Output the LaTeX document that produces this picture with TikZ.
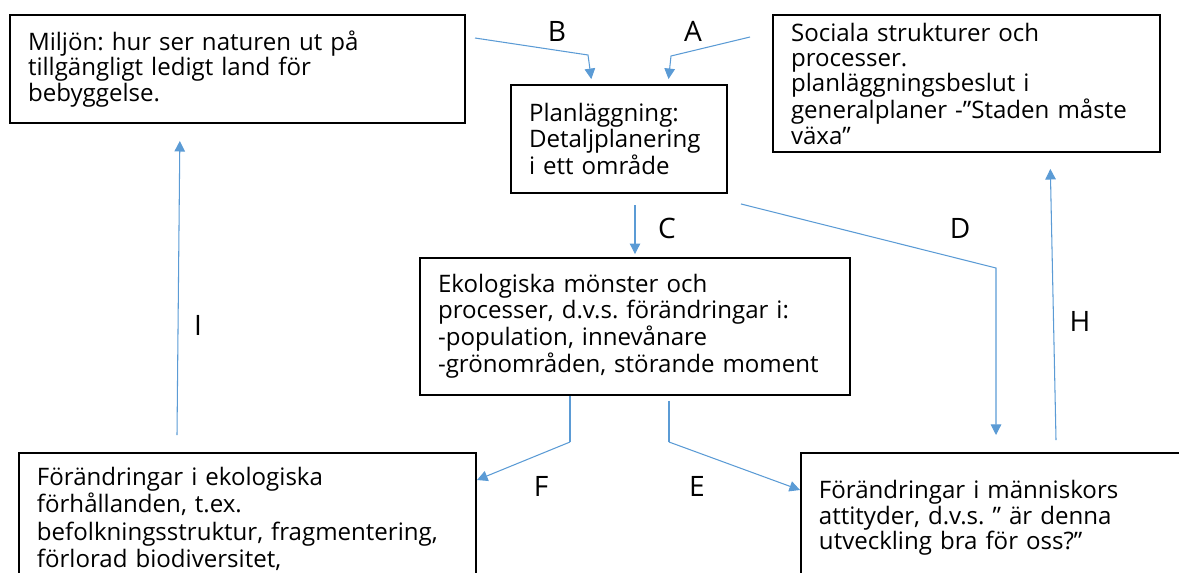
\documentclass[tikz,border=0pt]{standalone}
\usepackage{fontspec}
\setmainfont{Open Sans}
\usetikzlibrary{arrows.meta}
\definecolor{linkblue}{RGB}{91,155,213}
\frenchspacing
\tikzset{
	box/.style={draw, line width=1.1pt, align=left, inner xsep=0.36cm, inner ysep=0pt,
		font=\fontsize{13.7}{14.4}\selectfont},
	conn/.style={linkblue, line width=0.6pt, -{Triangle[width=6pt,length=6pt]}},
	plain/.style={linkblue, line width=0.6pt},
	lbl/.style={font=\fontsize{16}{16}\selectfont}
}
\begin{document}
\begin{tikzpicture}[x=0.02cm, y=-0.02cm]
		\useasboundingbox (0,0) rectangle (1179,572);
		\clip (0,0) rectangle (1179,572);
		% boxes
		\node[box, minimum width=9.1cm, minimum height=2.16cm, text width=8.38cm] (miljo) at (237.5,69)
			{Miljön: hur ser naturen ut på\\ tillgängligt ledigt land för\\ bebyggelse.};
		\node[box, minimum width=4.32cm, minimum height=2.16cm, text width=3.6cm] (plan) at (619,139)
			{Planläggning:\\ Detaljplanering\\ i ett område};
		\node[box, minimum width=7.74cm, minimum height=2.74cm, text width=7.02cm] (social) at (966.5,83.5)
			{Sociala strukturer och\\ processer.\\ planläggningsbeslut i\\ generalplaner -”Staden måste\\ växa”};
		\node[box, minimum width=8.6cm, minimum height=2.74cm, text width=7.88cm] (eko) at (635,326.5)
			{Ekologiska mönster och\\ processer, d.v.s. förändringar i:\\ -population, innevånare\\ -grönområden, störande moment};
		\node[box, anchor=north west, minimum width=9.14cm, minimum height=2.64cm, text width=8.42cm,
			font=\fontsize{13.7}{15.6}\selectfont] (ekoforand) at (18,452)
			{Förändringar i ekologiska\\ förhållanden, t.ex.\\ befolkningsstruktur, fragmentering,\\ förlorad biodiversitet,};
		\node[box, anchor=north west, minimum width=8.4cm, minimum height=2.6cm, text width=7.68cm] (attityd) at (800,452)
			{Förändringar i människors\\ attityder, d.v.s. ” är denna\\ utveckling bra för oss?”};
		% connector points
		\coordinate (bStart) at (475,38);
		\coordinate (bBend) at (588,55);
		\coordinate (aStart) at (750,37);
		\coordinate (aBend) at (671,56);
		\coordinate (cStart) at (635,205);
		\coordinate (dBend) at (996,268);
		\coordinate (dEnd) at (996,435);
		\coordinate (hStart) at (1056,440);
		\coordinate (iStart) at (177,435);
		\coordinate (fBend) at (570,442);
		\coordinate (eBend) at (669,442);
		% connectors
		\draw[conn, shorten >=0.1cm] (bStart) -- (bBend) -- (592,0 |- plan.north);
		\draw[conn, shorten >=0.1cm] (aStart) -- (aBend) -- (668,0 |- plan.north);
		\draw[conn, shorten >=0.06cm] (cStart) -- (cStart |- eko.north);
		\draw[conn] ([xshift=0.26cm, yshift=-0.2cm]plan.south east) -- (dBend) -- (dEnd);
		\draw[conn, shorten >=0.32cm] (hStart) -- (1050,0 |- social.south);
		\draw[conn, shorten >=0.34cm] (iStart) -- (180,0 |- miljo.south);
		\draw[plain] (570,0 |- eko.south) -- (fBend);
		\draw[conn] (fBend) -- (477,480);
		\draw[plain] ([yshift=-0.1cm]eBend |- eko.south) -- (eBend);
		\draw[conn] (eBend) -- (attityd.west |- 0,490);
		% labels
		\node[lbl] (labB) at (557,31) {B};
		\node[lbl] (labA) at (693,31) {A};
		\node[lbl] (labC) at (667,228) {C};
		\node[lbl] (labD) at (960,228) {D};
		\node[lbl] (labH) at (1080,321) {H};
		\node[lbl] (labI) at (198,325) {I};
		\node[lbl] (labF) at (541,486) {F};
		\node[lbl] (labE) at (697,486) {E};
	\end{tikzpicture}
\end{document}
